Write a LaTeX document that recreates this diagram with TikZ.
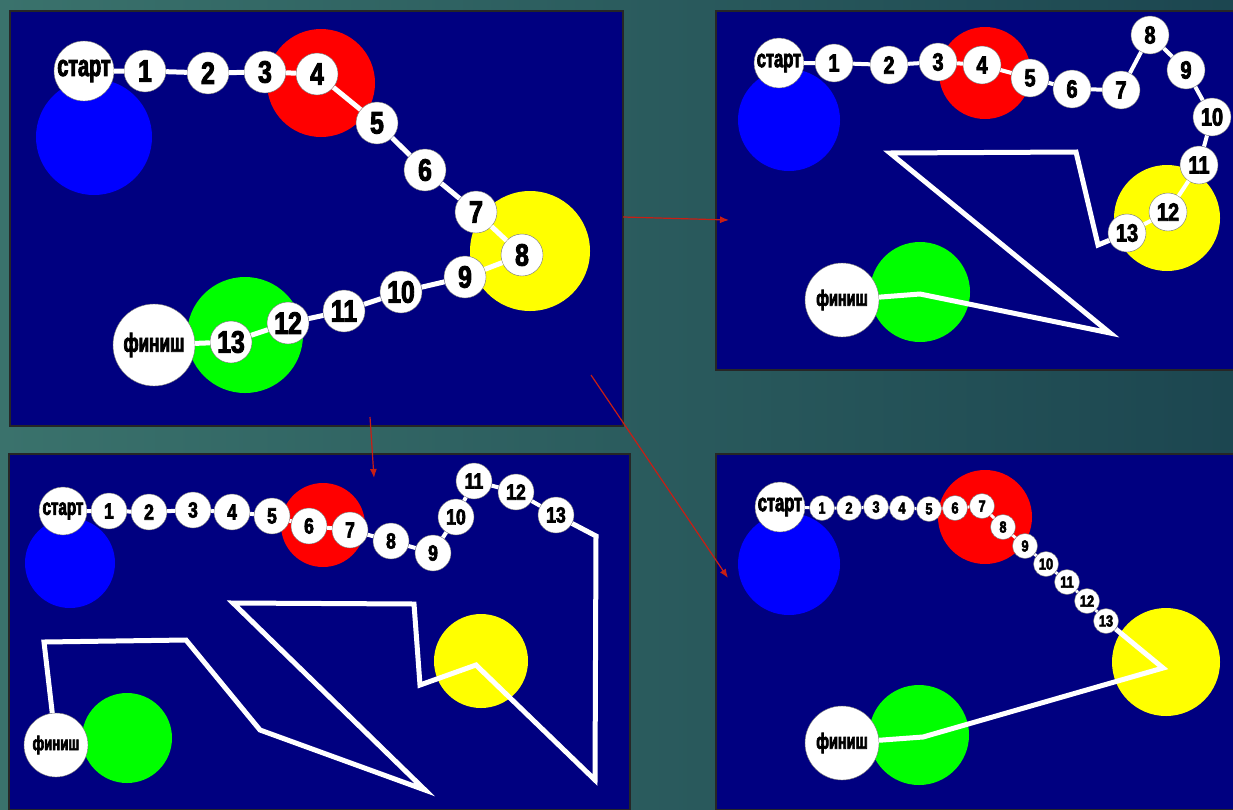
\documentclass[tikz,border=0pt]{standalone}
\usepackage{fontspec}
\setmainfont{Liberation Sans}
\newfontfamily\numf[FakeStretch=0.8,FakeBold=3]{Liberation Sans}
\newfontfamily\wrdf[FakeStretch=0.66,FakeBold=3]{Liberation Sans}
\usetikzlibrary{arrows.meta}
\definecolor{navyP}{RGB}{0,0,128}
\definecolor{bgL}{RGB}{58,114,108}
\definecolor{bgR}{RGB}{28,70,80}
\definecolor{blueC}{RGB}{0,0,255}
\definecolor{redC}{RGB}{255,0,0}
\definecolor{yelC}{RGB}{255,255,0}
\definecolor{grnC}{RGB}{0,255,0}
\definecolor{arrC}{RGB}{200,30,20}
\begin{document}
\begin{tikzpicture}[x=1pt,y=-1pt,
  pnl/.style={fill=navyP,draw=black!85,line width=1.2},
  dot/.style={circle,fill=white,draw=black!55,line width=0.4,inner sep=0pt,text=black},
  nA/.style={dot,minimum size=42,font=\numf\bfseries\fontsize{31}{31}\selectfont},
  nB/.style={dot,minimum size=38,font=\numf\bfseries\fontsize{25}{25}\selectfont},
  nC/.style={dot,minimum size=36,font=\numf\bfseries\fontsize{22}{22}\selectfont},
  nD/.style={dot,minimum size=25,font=\numf\bfseries\fontsize{16}{16}\selectfont},
  wrd/.style={dot,font=\wrdf\bfseries\fontsize{#1}{#1}\selectfont},
  lnk/.style={draw=white,line width=#1},
  pth/.style={draw=white,line width=5,line join=miter},
  redarrow/.style={draw=arrC,line width=1.2,-{Latex[length=9,width=7]}}]
\useasboundingbox (0,0) rectangle (1233,809);
\shade[left color=bgL,right color=bgR] (0,0) rectangle (1233,809);
% panels
\path[pnl] (10,11) rectangle (623,426);
\path[pnl] (716,11) rectangle (1234,370);
\path[pnl] (9,454) rectangle (630,810);
\path[pnl] (716,454) rectangle (1234,810);

% ---------- panel A ----------
\fill[blueC] (94,137) circle[radius=58];
\fill[redC] (321,83) circle[radius=54];
\fill[yelC] (530,251) circle[radius=60];
\fill[grnC] (245,335) circle[radius=58];
\node[wrd=30,minimum size=60] (a0) at (84,71) {старт};
\node[wrd=26,minimum size=82] (aF) at (154,345) {финиш};
\foreach \i/\x/\y in {1/145/71,2/208/73,3/265/72,4/317/74,5/377/123,6/425/170,7/476/212,8/522/255,9/465/277,10/401/292,11/344/311,12/288/323,13/231/342}
  \node[nA] (a\i) at (\x,\y) {\i};
\draw[lnk=5] (a0)--(a1) (a1)--(a2) (a2)--(a3) (a3)--(a4) (a4)--(a5) (a5)--(a6) (a6)--(a7) (a7)--(a8) (a8)--(a9) (a9)--(a10) (a10)--(a11) (a11)--(a12) (a12)--(a13) (a13)--(aF);

% ---------- panel B ----------
\fill[blueC] (789,120) circle[radius=51];
\fill[redC] (985,73) circle[radius=46];
\fill[yelC] (1167,218) circle[radius=53];
\fill[grnC] (920,292) circle[radius=50];
\node[wrd=25,minimum size=50] (b0) at (779,63) {старт};
\node[wrd=22,minimum size=74] (bF) at (842,300) {финиш};
\foreach \i/\x/\y in {1/834/63,2/889/65,3/938/62,4/982/65,5/1030/78,6/1072/89,7/1121/90,8/1150/35,9/1186/70,10/1212/117,11/1199/165,12/1168/212,13/1127/233}
  \node[nB] (b\i) at (\x,\y) {\i};
\draw[lnk=4] (b0)--(b1) (b1)--(b2) (b2)--(b3) (b3)--(b4) (b4)--(b5) (b5)--(b6) (b6)--(b7) (b7)--(b8) (b8)--(b9) (b9)--(b10) (b10)--(b11) (b11)--(b12) (b12)--(b13);
\draw[pth] (b13) -- (1098,245) -- (1076,152) -- (890,153) -- (1110,333) -- (920,294) -- (bF);

% ---------- panel C ----------
\fill[blueC] (70,563) circle[radius=45];
\fill[redC] (323,525) circle[radius=42];
\fill[yelC] (481,661) circle[radius=47];
\fill[grnC] (127,738) circle[radius=45];
\node[wrd=23,minimum size=48] (c0) at (63,511) {старт};
\node[wrd=20,minimum size=64] (cF) at (56,745) {финиш};
\foreach \i/\x/\y in {1/109/511,2/149/512,3/193/510,4/232/512,5/272/516,6/309/526,7/350/530,8/391/541,9/433/553,10/456/517,11/474/481,12/516/492,13/556/515}
  \node[nC] (c\i) at (\x,\y) {\i};
\draw[lnk=4] (c0)--(c1) (c1)--(c2) (c2)--(c3) (c3)--(c4) (c4)--(c5) (c5)--(c6) (c6)--(c7) (c7)--(c8) (c8)--(c9) (c9)--(c10) (c10)--(c11) (c11)--(c12) (c12)--(c13);
\draw[pth] (c13) -- (596,536) -- (595,780) -- (476,665) -- (420,685) -- (414,604) -- (233,603) -- (425,790) -- (260,730) -- (186,640) -- (44,642) -- (cF);

% ---------- panel D ----------
\fill[blueC] (789,564) circle[radius=51];
\fill[redC] (985,517) circle[radius=47];
\fill[yelC] (1166,662) circle[radius=54];
\fill[grnC] (919,735) circle[radius=50];
\node[wrd=25,minimum size=50] (d0) at (780,507) {старт};
\node[wrd=22,minimum size=74] (dF) at (842,743) {финиш};
\foreach \i/\x/\y in {1/822/508,2/849/508,3/876/507,4/902/508,5/929/509,6/955/508,7/982/506,8/1003/527,9/1025/546,10/1046/564,11/1067/582,12/1087/601,13/1106/621}
  \node[nD] (d\i) at (\x,\y) {\i};
\draw[lnk=3] (d0)--(d1) (d1)--(d2) (d2)--(d3) (d3)--(d4) (d4)--(d5) (d5)--(d6) (d6)--(d7) (d7)--(d8) (d8)--(d9) (d9)--(d10) (d10)--(d11) (d11)--(d12) (d12)--(d13);
\draw[pth] (d13) -- (1163,668) -- (923,737) -- (dF);

% ---------- arrows ----------
\coordinate (ab1) at (623,217);
\coordinate (ab2) at (729,220);
\coordinate (ac1) at (370,417);
\coordinate (ac2) at (374,478);
\coordinate (ad1) at (591,375);
\coordinate (ad2) at (728,578);
\draw[redarrow] (ab1) -- (ab2);
\draw[redarrow] (ac1) -- (ac2);
\draw[redarrow] (ad1) -- (ad2);
\end{tikzpicture}
\end{document}
